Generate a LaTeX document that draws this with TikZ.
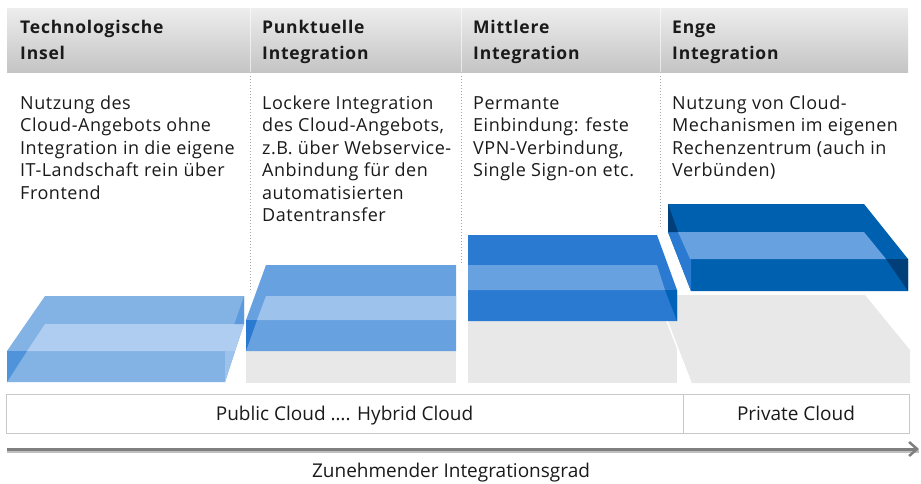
\documentclass[tikz,border=0pt]{standalone}
\usepackage{fontspec}
\setmainfont{Open Sans}
\newfontfamily\bodyfont[LetterSpace=3]{Open Sans}
\newfontfamily\titlefont[LetterSpace=4.5]{Open Sans}
\usetikzlibrary{arrows.meta}
\definecolor{txt}{HTML}{1A1A1A}
\definecolor{shd}{HTML}{E8E8E8}
\definecolor{boxline}{HTML}{C8C8C8}
\definecolor{aonemid}{HTML}{83B2E4}
\definecolor{aonelight}{HTML}{AFCDF0}
\definecolor{aonestrip}{HTML}{9DC3EC}
\definecolor{aonedark}{HTML}{4F93DA}
\definecolor{aonedarkr}{HTML}{5B9BDD}
\definecolor{atwomid}{HTML}{67A1E0}
\definecolor{atwolight}{HTML}{9DC2EC}
\definecolor{atwodark}{HTML}{2B7AD1}
\definecolor{athreemid}{HTML}{2B7AD1}
\definecolor{athreelight}{HTML}{67A1E0}
\definecolor{athreedark}{HTML}{0063B7}
\definecolor{afourmid}{HTML}{0060B0}
\definecolor{afourlight}{HTML}{67A1E0}
\definecolor{afourside}{HTML}{2B7AD1}
\definecolor{afourdark}{HTML}{003F78}
\definecolor{arrowgray}{HTML}{7F7F7F}
\begin{document}
\begin{tikzpicture}[x=1pt,y=-1pt,
  titletext/.style={anchor=base west, inner sep=0pt, align=left, text=txt,
    font=\titlefont\bfseries\fontsize{17.5}{26}\selectfont},
  bodytext/.style={anchor=base west, inner sep=0pt, align=left, text=txt,
    font=\bodyfont\fontsize{18}{22.5}\selectfont},
  cell/.style={draw=boxline, line width=1pt, inner sep=0pt, text=txt,
    minimum height=39pt, text height=13.5pt, text depth=0pt,
    font=\fontsize{19}{22}\selectfont},
  divider/.style={draw=gray!70, line width=1pt, dotted},
  hdrsep/.style={draw=white, line width=1pt, opacity=0.6}
]
\useasboundingbox (0,0) rectangle (921,483);

% header band
\shade[top color=black!7, bottom color=black!23] (7,8) rectangle (908,72);
\draw[hdrsep] (250,8) -- (250,72);
\draw[hdrsep] (461,8) -- (461,72);
\draw[hdrsep] (660,8) -- (660,72);

% dotted dividers
\draw[divider] (250,76) -- (250,292);
\draw[divider] (461,76) -- (461,265);
\draw[divider] (660,76) -- (660,228);

% titles (anchor = baseline of the last line)
\node[titletext] (t1) at (20,59) {Technologische\\Insel};
\node[titletext] (t2) at (262,59) {Punktuelle\\Integration};
\node[titletext] (t3) at (473,59) {Mittlere\\Integration};
\node[titletext] (t4) at (672,59) {Enge\\Integration};

% body texts (anchor = baseline of the last line)
\node[bodytext] (d1) at (20,199) {Nutzung des\\Cloud-Angebots ohne\\Integration in die eigene\\IT-Landschaft rein über\\Frontend};
\node[bodytext] (d2) at (262,221.5) {Lockere Integration\\des Cloud-Angebots,\\z.B. über Webservice-\\Anbindung für den\\automatisierten\\Datentransfer};
\node[bodytext] (d3) at (473,176.5) {Permante\\Einbindung: feste\\VPN-Verbindung,\\Single Sign-on etc.};
\node[bodytext] (d4) at (672,176.5) {Nutzung von Cloud-\\Mechanismen im eigenen\\Rechenzentrum (auch in\\Verbünden)};

% block 1
\fill[aonemid] (45,296) -- (244,296) -- (244,324) -- (225,382) -- (7,382) -- (7,351) -- cycle;
\fill[aonelight] (45,324) -- (244,324) -- (235,351) -- (27,351) -- cycle;
\fill[aonestrip] (235,351) -- (225,382) -- (225,351) -- cycle;
\fill[aonedark] (7,351) -- (27,351) -- (7,382) -- cycle;
\fill[aonedarkr] (244,296) -- (244,324) -- (234.5,324) -- cycle;

% block 2
\fill[shd] (246,351) rectangle (456,383);
\fill[atwomid] (266,265) -- (456,265) -- (456,351) -- (246,351) -- (246,320) -- cycle;
\fill[atwolight] (266,296) -- (456,296) -- (456,320) -- (257,320) -- cycle;
\fill[atwodark] (246,320) -- (257,320) -- (246,351) -- cycle;

% shadows 3 and 4
\fill[shd] (468,321) rectangle (677,383);
\fill[shd] (657,295) -- (865,295) -- (910,350) -- (910,383) -- (691,383) -- cycle;
\draw[white, line width=1.5pt] (657,295) -- (691,383);

% block 3
\fill[athreemid] (468,235) -- (657,235) -- (677,290) -- (677,321) -- (468,321) -- cycle;
\fill[athreelight] (468,265) -- (657,265) -- (665,290) -- (468,290) -- cycle;
\fill[athreedark] (665,290) -- (677,290) -- (677,321) -- cycle;

% block 4
\fill[afourmid] (668,204) -- (864,204) -- (908,259) -- (908,291) -- (691,291) -- (668,232) -- cycle;
\fill[afourside] (668,232) -- (678,232) -- (690,259) -- (691,259) -- (691,291) -- cycle;
\fill[afourdark] (668,204) -- (668,232) -- (678,232) -- cycle;
\fill[afourlight] (678,232) -- (864,232) -- (886,259) -- (690,259) -- cycle;
\fill[afourdark] (886,259) -- (908,259) -- (908,291) -- cycle;

% bottom cells
\node[cell, minimum width=677pt] (pub) at (344.5,413.5) {Public Cloud …. Hybrid Cloud};
\node[cell, minimum width=226pt] (priv) at (796,413.5) {Private Cloud};

% arrow
\coordinate (as) at (7,449);
\coordinate (ae) at (919,449);
\draw[black!25, line width=3pt] ([yshift=-2pt]as) -- ([yshift=-2pt]ae);
\draw[arrowgray, line width=3pt, -{Straight Barb[length=8pt,width=14pt,line width=2.5pt]}] (as) -- (ae);
\node[anchor=base, inner sep=0pt, text=txt, font=\fontsize{19}{22}\selectfont] (lbl) at (451,477) {Zunehmender Integrationsgrad};
\end{tikzpicture}
\end{document}
